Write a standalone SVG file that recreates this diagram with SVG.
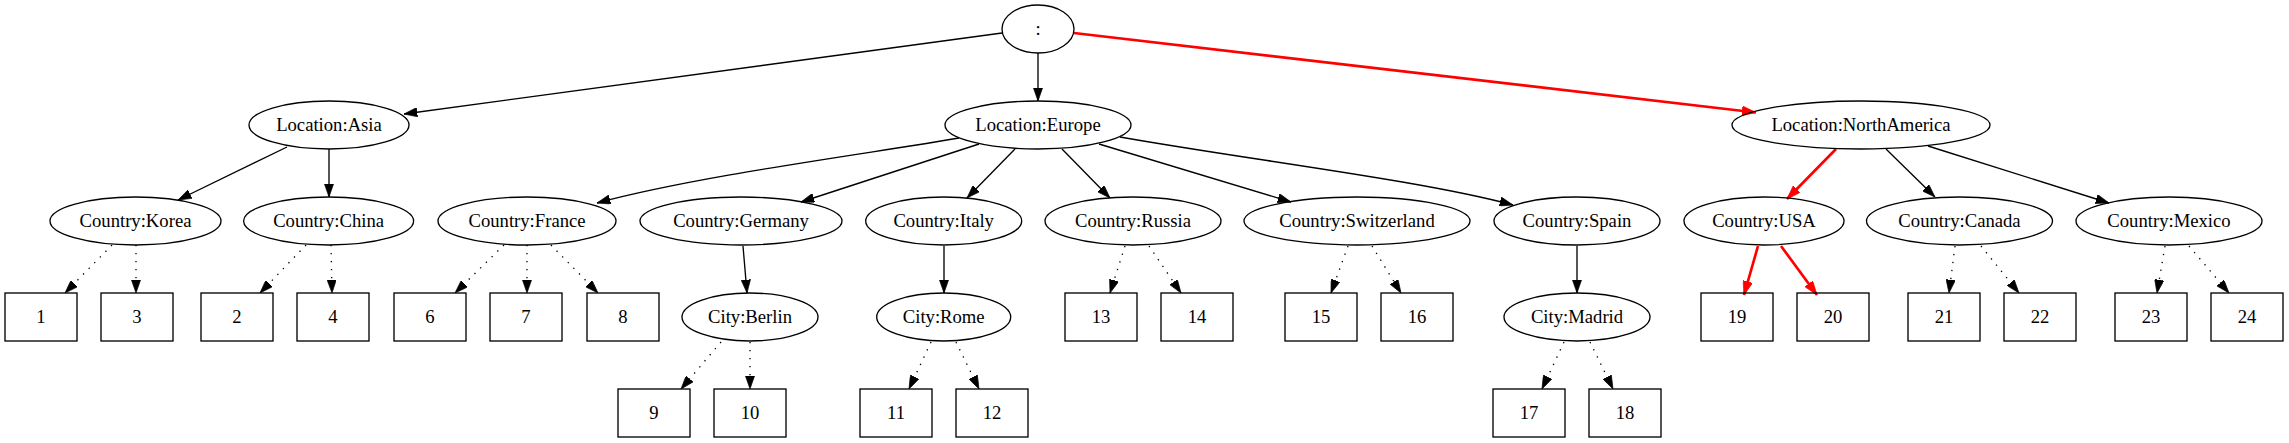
<svg xmlns="http://www.w3.org/2000/svg" width="2289" height="443" viewBox="0 0 2289 443">
<style>
.n ellipse, .n rect { fill: none; stroke: #000; stroke-width: 1.33; }
.n text { font-family: "Liberation Serif", "Times New Roman", serif; font-size: 18.67px; text-anchor: middle; fill: #000; }
.e path { fill: none; stroke: #000; stroke-width: 1.33; marker-end: url(#ab); }
.e path.d { stroke-dasharray: 1.33 6.67; }
.e path.r { stroke: #ff0000; stroke-width: 2.67; marker-end: url(#ar); }
</style>
<defs>
<marker id="ab" viewBox="0 0 10 7" refX="10" refY="3.5" markerWidth="13.3" markerHeight="9.3" markerUnits="userSpaceOnUse" orient="auto">
<path d="M0,0 L10,3.5 L0,7 z" fill="#000" stroke="#000" stroke-width="0.5"/>
</marker>
<marker id="ar" viewBox="0 0 10 7" refX="10" refY="3.5" markerWidth="14" markerHeight="10" markerUnits="userSpaceOnUse" orient="auto">
<path d="M0,0 L10,3.5 L0,7 z" fill="#ff0000" stroke="#ff0000" stroke-width="0.5"/>
</marker>
</defs>
<rect width="2289" height="443" fill="#fff"/>
<g id="connectors" class="e">
<path d="M1002,33 L404,114"/>
<path d="M1038,53 L1038,101"/>
<path class="r" d="M1074,33 L1756,112.5"/>
<path d="M287,147 L178,200"/>
<path d="M329,149 L329,197"/>
<path d="M959,138 C880,152 700,175 597,203"/>
<path d="M979,144 L801,202"/>
<path d="M1015,149 L967,198"/>
<path d="M1062,149 L1110,198"/>
<path d="M1099,144 L1291,202"/>
<path d="M1120,137 C1250,160 1420,180 1513,205"/>
<path class="r" d="M1836,149 L1787,199"/>
<path d="M1886,149 L1935,197"/>
<path d="M1928,146 L2109,203"/>
<path class="d" d="M112,245 L65,293"/>
<path class="d" d="M136,245 L136,293"/>
<path class="d" d="M306,245 L260,293"/>
<path class="d" d="M331,245 L332,293"/>
<path class="d" d="M504,245 L455,293"/>
<path class="d" d="M527,245 L527,293"/>
<path class="d" d="M551,245 L598,293"/>
<path d="M743,246 L747,293"/>
<path class="d" d="M721,342 L681,389"/>
<path class="d" d="M750,342 L750,389"/>
<path d="M944,246 L944,293"/>
<path class="d" d="M931,342 L909,389"/>
<path class="d" d="M956,342 L979,389"/>
<path class="d" d="M1125,246 L1110,293"/>
<path class="d" d="M1149,246 L1181,293"/>
<path class="d" d="M1348,246 L1331,293"/>
<path class="d" d="M1372,246 L1401,293"/>
<path d="M1577,246 L1577,293"/>
<path class="d" d="M1564,342 L1542,389"/>
<path class="d" d="M1590,342 L1613,389"/>
<path class="r" d="M1758,246 L1744,295"/>
<path class="r" d="M1781,246 L1817,295"/>
<path class="d" d="M1955,246 L1949,293"/>
<path class="d" d="M1981,246 L2019,293"/>
<path class="d" d="M2165,246 L2157,293"/>
<path class="d" d="M2189,246 L2229,293"/>
</g>
<g id="root" class="n"><ellipse cx="1038" cy="29" rx="36" ry="24"/><text x="1038" y="35">:</text></g>
<g id="asia" class="n"><ellipse cx="329" cy="125" rx="80" ry="24"/><text x="329" y="131">Location:Asia</text></g>
<g id="europe" class="n"><ellipse cx="1038" cy="125" rx="93" ry="24"/><text x="1038" y="131">Location:Europe</text></g>
<g id="northamerica" class="n"><ellipse cx="1861" cy="125" rx="129" ry="24"/><text x="1861" y="131">Location:NorthAmerica</text></g>
<g id="korea" class="n"><ellipse cx="135.5" cy="221" rx="85.5" ry="24"/><text x="135.5" y="227">Country:Korea</text></g>
<g id="china" class="n"><ellipse cx="328.6" cy="221" rx="85" ry="24"/><text x="328.6" y="227">Country:China</text></g>
<g id="france" class="n"><ellipse cx="527" cy="221" rx="89" ry="24"/><text x="527" y="227">Country:France</text></g>
<g id="germany" class="n"><ellipse cx="741" cy="221" rx="101" ry="24"/><text x="741" y="227">Country:Germany</text></g>
<g id="italy" class="n"><ellipse cx="943.7" cy="221" rx="78" ry="24"/><text x="943.7" y="227">Country:Italy</text></g>
<g id="russia" class="n"><ellipse cx="1133" cy="221" rx="88" ry="24"/><text x="1133" y="227">Country:Russia</text></g>
<g id="switzerland" class="n"><ellipse cx="1357" cy="221" rx="113" ry="24"/><text x="1357" y="227">Country:Switzerland</text></g>
<g id="spain" class="n"><ellipse cx="1577" cy="221" rx="83" ry="24"/><text x="1577" y="227">Country:Spain</text></g>
<g id="usa" class="n"><ellipse cx="1764" cy="221" rx="80" ry="24"/><text x="1764" y="227">Country:USA</text></g>
<g id="canada" class="n"><ellipse cx="1959.5" cy="221" rx="93" ry="24"/><text x="1959.5" y="227">Country:Canada</text></g>
<g id="mexico" class="n"><ellipse cx="2169" cy="221" rx="93" ry="24"/><text x="2169" y="227">Country:Mexico</text></g>
<g id="berlin" class="n"><ellipse cx="750" cy="317" rx="68" ry="24"/><text x="750" y="323">City:Berlin</text></g>
<g id="rome" class="n"><ellipse cx="943.7" cy="317" rx="67" ry="24"/><text x="943.7" y="323">City:Rome</text></g>
<g id="madrid" class="n"><ellipse cx="1577" cy="317" rx="73" ry="24"/><text x="1577" y="323">City:Madrid</text></g>
<g id="n1" class="n"><rect x="5" y="293" width="72" height="48"/><text x="41" y="323">1</text></g>
<g id="n3" class="n"><rect x="101" y="293" width="72" height="48"/><text x="137" y="323">3</text></g>
<g id="n2" class="n"><rect x="201" y="293" width="72" height="48"/><text x="237" y="323">2</text></g>
<g id="n4" class="n"><rect x="297" y="293" width="72" height="48"/><text x="333" y="323">4</text></g>
<g id="n6" class="n"><rect x="394" y="293" width="72" height="48"/><text x="430" y="323">6</text></g>
<g id="n7" class="n"><rect x="490" y="293" width="72" height="48"/><text x="526" y="323">7</text></g>
<g id="n8" class="n"><rect x="587" y="293" width="72" height="48"/><text x="623" y="323">8</text></g>
<g id="n9" class="n"><rect x="618" y="389" width="72" height="48"/><text x="654" y="419">9</text></g>
<g id="n10" class="n"><rect x="714" y="389" width="72" height="48"/><text x="750" y="419">10</text></g>
<g id="n11" class="n"><rect x="860" y="389" width="72" height="48"/><text x="896" y="419">11</text></g>
<g id="n12" class="n"><rect x="956" y="389" width="72" height="48"/><text x="992" y="419">12</text></g>
<g id="n13" class="n"><rect x="1065" y="293" width="72" height="48"/><text x="1101" y="323">13</text></g>
<g id="n14" class="n"><rect x="1161" y="293" width="72" height="48"/><text x="1197" y="323">14</text></g>
<g id="n15" class="n"><rect x="1285" y="293" width="72" height="48"/><text x="1321" y="323">15</text></g>
<g id="n16" class="n"><rect x="1381" y="293" width="72" height="48"/><text x="1417" y="323">16</text></g>
<g id="n17" class="n"><rect x="1493" y="389" width="72" height="48"/><text x="1529" y="419">17</text></g>
<g id="n18" class="n"><rect x="1589" y="389" width="72" height="48"/><text x="1625" y="419">18</text></g>
<g id="n19" class="n"><rect x="1701" y="293" width="72" height="48"/><text x="1737" y="323">19</text></g>
<g id="n20" class="n"><rect x="1797" y="293" width="72" height="48"/><text x="1833" y="323">20</text></g>
<g id="n21" class="n"><rect x="1908" y="293" width="72" height="48"/><text x="1944" y="323">21</text></g>
<g id="n22" class="n"><rect x="2004" y="293" width="72" height="48"/><text x="2040" y="323">22</text></g>
<g id="n23" class="n"><rect x="2115" y="293" width="72" height="48"/><text x="2151" y="323">23</text></g>
<g id="n24" class="n"><rect x="2211" y="293" width="72" height="48"/><text x="2247" y="323">24</text></g>
</svg>
